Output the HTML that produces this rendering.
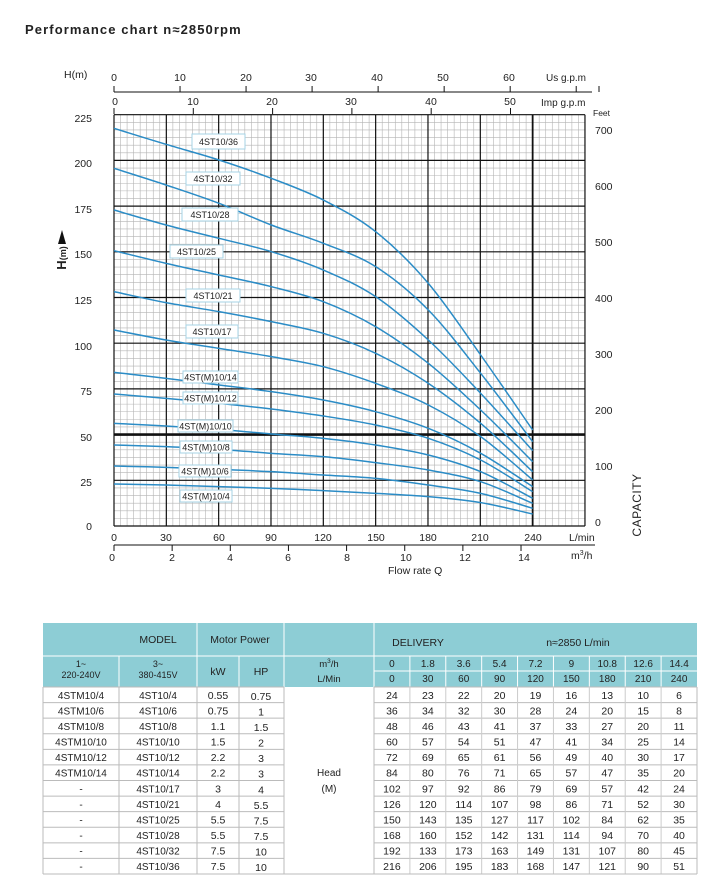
<!DOCTYPE html>
<html><head><meta charset="utf-8"><style>
body{margin:0;background:#fff;width:713px;height:884px;overflow:hidden;font-family:"Liberation Sans",Arial,sans-serif}
svg text{font-family:"Liberation Sans",Arial,sans-serif;fill:#222}
</style></head><body>
<svg id="s" width="713" height="884" xmlns="http://www.w3.org/2000/svg">
<text x="25" y="34" font-size="13" font-weight="bold" letter-spacing="1.1">Performance chart n≈2850rpm</text>
<g id="grid"></g>
<g id="curves" fill="none" stroke="#2b8cc6" stroke-width="1.5"></g>
<g font-size="10.5" text-anchor="end">
<text x="92" y="122">225</text><text x="92" y="167">200</text><text x="92" y="213">175</text><text x="92" y="258">150</text><text x="92" y="304">125</text><text x="92" y="350">100</text><text x="92" y="395">75</text><text x="92" y="441">50</text><text x="92" y="486">25</text><text x="92" y="530">0</text>
</g>
<text x="64" y="78" font-size="10.5">H(m)</text>
<g transform="translate(66,258) rotate(-90)"><text x="0" y="0" font-size="13" font-weight="bold" text-anchor="middle">H<tspan font-size="9" dy="0">(m)</tspan></text></g>
<polygon points="58,244 62,230 66,244" fill="#111"/>
<g font-size="10.5" text-anchor="start">
<text x="595" y="134">700</text><text x="595" y="190">600</text><text x="595" y="246">500</text><text x="595" y="302">400</text><text x="595" y="358">300</text><text x="595" y="414">200</text><text x="595" y="470">100</text><text x="595" y="526">0</text>
</g>
<text x="593" y="116" font-size="8.5">Feet</text>
<text transform="translate(641,505) rotate(-90)" font-size="12" text-anchor="middle" letter-spacing="0.5">CAPACITY</text>
<line x1="114" y1="92" x2="592" y2="92" stroke="#111" stroke-width="1"/>
<g id="topticks" stroke="#111" stroke-width="1"></g>
<g font-size="10.5" text-anchor="middle">
<text x="114" y="81">0</text><text x="180" y="81">10</text><text x="246" y="81">20</text><text x="311" y="81">30</text><text x="377" y="81">40</text><text x="443" y="81">50</text><text x="509" y="81">60</text>
<text x="115" y="105">0</text><text x="193" y="105">10</text><text x="272" y="105">20</text><text x="351" y="105">30</text><text x="431" y="105">40</text><text x="510" y="105">50</text>
</g>
<text x="546" y="81" font-size="10">Us g.p.m</text>
<text x="541" y="106" font-size="10">Imp g.p.m</text>
<g font-size="10.5" text-anchor="middle">
<text x="114" y="541">0</text><text x="166" y="541">30</text><text x="219" y="541">60</text><text x="271" y="541">90</text><text x="323" y="541">120</text><text x="376" y="541">150</text><text x="428" y="541">180</text><text x="480" y="541">210</text><text x="533" y="541">240</text>
<text x="112" y="561">0</text><text x="172" y="561">2</text><text x="230" y="561">4</text><text x="288" y="561">6</text><text x="347" y="561">8</text><text x="406" y="561">10</text><text x="465" y="561">12</text><text x="524" y="561">14</text>
</g>
<line x1="114" y1="545" x2="595" y2="545" stroke="#111" stroke-width="1"/>
<g id="botticks" stroke="#111" stroke-width="1"></g>
<text x="569" y="541" font-size="10.5">L/min</text>
<text x="571" y="559" font-size="10.5">m<tspan font-size="7" dy="-4">3</tspan><tspan dy="4">/h</tspan></text>
<text x="388" y="574" font-size="10.5">Flow rate Q</text>
<g id="labels" font-size="9" text-anchor="middle"></g>
<g id="table"></g>
</svg>
<script>
var NS="http://www.w3.org/2000/svg";
function el(p,t,a,txt){var e=document.createElementNS(NS,t);for(var k in a)e.setAttribute(k,a[k]);if(txt!==undefined)e.textContent=txt;p.appendChild(e);return e;}
var X0=114,XS=52.33/30,Y0=526,YS=45.7/25,TOP=Y0-225*YS,RIGHT=X0+270*XS;
var g=document.getElementById('grid');
for(var i=0;i<=72;i++){var x=X0+i*52.33/8;el(g,'line',{x1:x,y1:TOP,x2:x,y2:Y0,stroke:'#b4b4b4','stroke-width':0.6});}
for(var j=0;j<=54;j++){var y=Y0-j*45.7/6;el(g,'line',{x1:X0,y1:y,x2:RIGHT,y2:y,stroke:'#b4b4b4','stroke-width':0.6});}
for(var i=0;i<=9;i++){var x=X0+i*52.33;el(g,'line',{x1:x,y1:TOP,x2:x,y2:Y0,stroke:'#111','stroke-width':(i==8?1.8:1.2)});}
for(var j=0;j<=9;j++){var y=Y0-j*45.7;el(g,'line',{x1:X0,y1:y,x2:RIGHT,y2:y,stroke:'#111','stroke-width':(j==2?2.6:1.2)});}
var tt=document.getElementById('topticks');
for(var i=0;i<=7;i++){var x=X0+i*37.854*XS;if(x<592)el(tt,'line',{x1:x,y1:86,x2:x,y2:92});}
el(tt,'line',{x1:599,y1:86,x2:599,y2:92});
for(var i=0;i<=5;i++){var x=X0+i*45.46*XS;el(tt,'line',{x1:x,y1:108,x2:x,y2:114});}
var bt=document.getElementById('botticks');
for(var i=0;i<=7;i++){var x=X0+i*2*16.667*XS;el(bt,'line',{x1:x,y1:545,x2:x,y2:551});}
var ZX=[12,168,327,484,640,797,955,1112,1268];
var ZY=[[1122,1125,1130,1135,1142,1150,1160,1178,1212],[1068,1072,1078,1085,1095,1105,1125,1150,1195],[1005,1010,1018,1030,1040,1058,1080,1115,1180],[940,948,958,972,985,1005,1035,1085,1165],[852,865,880,897,918,945,985,1050,1145],[787,805,825,845,870,905,955,1030,1130],[660,690,715,740,770,820,885,980,1110],[545,578,605,635,670,730,820,940,1085],[422,460,495,530,575,650,760,900,1055],[300,345,385,425,480,560,690,850,1022],[175,225,280,345,400,470,600,790,995],[55,103,150,205,270,365,520,735,960]];
var cg=document.getElementById('curves');
ZY.forEach(function(r){var P=r.map(function(zy,i){return[110+ZX[i]/3,110+zy/3];});
var d='M'+P[0][0]+','+P[0][1];
for(var i=0;i<P.length-1;i++){var p0=P[Math.max(i-1,0)],p1=P[i],p2=P[i+1],p3=P[Math.min(i+2,P.length-1)];
d+=' C'+(p1[0]+(p2[0]-p0[0])/6)+','+(p1[1]+(p2[1]-p0[1])/6)+' '+(p2[0]-(p3[0]-p1[0])/6)+','+(p2[1]-(p3[1]-p1[1])/6)+' '+p2[0]+','+p2[1];}
el(cg,'path',{d:d});});
var L=[["4ST10/36",192,134,245,149],["4ST10/32",186,172,240,185],["4ST10/28",182,208,238,221],["4ST10/25",170,245,223,258],["4ST10/21",186,289,240,302],["4ST10/17",186,325,238,338],["4ST(M)10/14",183,371,238,383],["4ST(M)10/12",183,392,238,404],["4ST(M)10/10",178,420,233,432],["4ST(M)10/8",180,441,232,453],["4ST(M)10/6",179,465,231,477],["4ST(M)10/4",180,490,232,502]];
var lg=document.getElementById('labels');
L.forEach(function(l){el(lg,'rect',{x:l[1],y:l[2],width:l[3]-l[1],height:l[4]-l[2],fill:'#fff',stroke:'#a6d3e6','stroke-width':1});
el(lg,'text',{x:(l[1]+l[3])/2,y:(l[2]+l[4])/2+3.5},l[0]);});
var T=document.getElementById('table');var TEAL='#8dcdd5';
var cx=[43,119,197,239,284,374];for(var i=1;i<=9;i++)cx.push(374+i*(697-374)/9);
el(T,'rect',{x:43,y:623,width:654,height:64,fill:TEAL});
el(T,'rect',{x:43,y:687,width:654,height:187,fill:'#fff'});
function tx(x,y,s,sz){el(T,'text',{x:x,y:y,'font-size':sz||10,'text-anchor':'middle'},s);}
function ln(x1,y1,x2,y2,c){el(T,'line',{x1:x1,y1:y1,x2:x2,y2:y2,stroke:c,'stroke-width':1});}
ln(43,656,374,656,'#fff');ln(374,656,697,656,'#fff');ln(374,671,697,671,'#fff');
[119,239].forEach(function(x){ln(x,656,x,687,'#fff');});
[197,284,374].forEach(function(x){ln(x,623,x,687,'#fff');});
for(var i=6;i<cx.length-1;i++)ln(cx[i],656,cx[i],687,'#fff');
tx(158,643,'MODEL',10.5);tx(240,643,'Motor Power',10.5);tx(418,646,'DELIVERY',10.5);tx(578,646,'n≈2850 L/min',10.5);
tx(81,667,'1~',9);tx(81,678,'220-240V',9);tx(158,667,'3~',9);tx(158,678,'380-415V',9);
tx(218,675,'kW',10.5);tx(261,675,'HP',10.5);
el(T,'text',{x:329,y:667,'font-size':9.5,'text-anchor':'middle'}).innerHTML='m<tspan font-size="6.5" dy="-4">3</tspan><tspan dy="4">/h</tspan>';
tx(329,682,'L/Min',9.5);
var q1=['0','1.8','3.6','5.4','7.2','9','10.8','12.6','14.4'],q2=['0','30','60','90','120','150','180','210','240'];
for(var i=0;i<9;i++){var m=(cx[5+i]+cx[6+i])/2;tx(m,667,q1[i],10);tx(m,682,q2[i],10);}
var R=[["4STM10/4","4ST10/4","0.55","0.75"],["4STM10/6","4ST10/6","0.75","1"],["4STM10/8","4ST10/8","1.1","1.5"],["4STM10/10","4ST10/10","1.5","2"],["4STM10/12","4ST10/12","2.2","3"],["4STM10/14","4ST10/14","2.2","3"],["-","4ST10/17","3","4"],["-","4ST10/21","4","5.5"],["-","4ST10/25","5.5","7.5"],["-","4ST10/28","5.5","7.5"],["-","4ST10/32","7.5","10"],["-","4ST10/36","7.5","10"]];
var DT=[[24,23,22,20,19,16,13,10,6],[36,34,32,30,28,24,20,15,8],[48,46,43,41,37,33,27,20,11],[60,57,54,51,47,41,34,25,14],[72,69,65,61,56,49,40,30,17],[84,80,76,71,65,57,47,35,20],[102,97,92,86,79,69,57,42,24],[126,120,114,107,98,86,71,52,30],[150,143,135,127,117,102,84,62,35],[168,160,152,142,131,114,94,70,40],[192,133,173,163,149,131,107,80,45],[216,206,195,183,168,147,121,90,51]];
var rh=(874-687)/12;
for(var r=0;r<=12;r++){var y=687+r*rh;ln(43,y,284,y,'#bbb');ln(374,y,697,y,'#bbb');}
[43,119,197,239,284,374,697].forEach(function(x){ln(x,687,x,874,'#bbb');});
for(var i=6;i<cx.length-1;i++)ln(cx[i],687,cx[i],874,'#ccc');
ln(43,874,697,874,'#bbb');
for(var r=0;r<12;r++){var y=687+r*rh+rh/2+4;var rr=R[r];
tx(81,y,rr[0],10);tx(158,y,rr[1],10);tx(218,y,rr[2],10.5);tx(261,y+1,rr[3],10.5);
for(var i=0;i<9;i++)tx((cx[5+i]+cx[6+i])/2,y,String(DT[r][i]),10.5);}
tx(329,776,'Head',10);tx(329,792,'(M)',10);
</script>
</body></html>
